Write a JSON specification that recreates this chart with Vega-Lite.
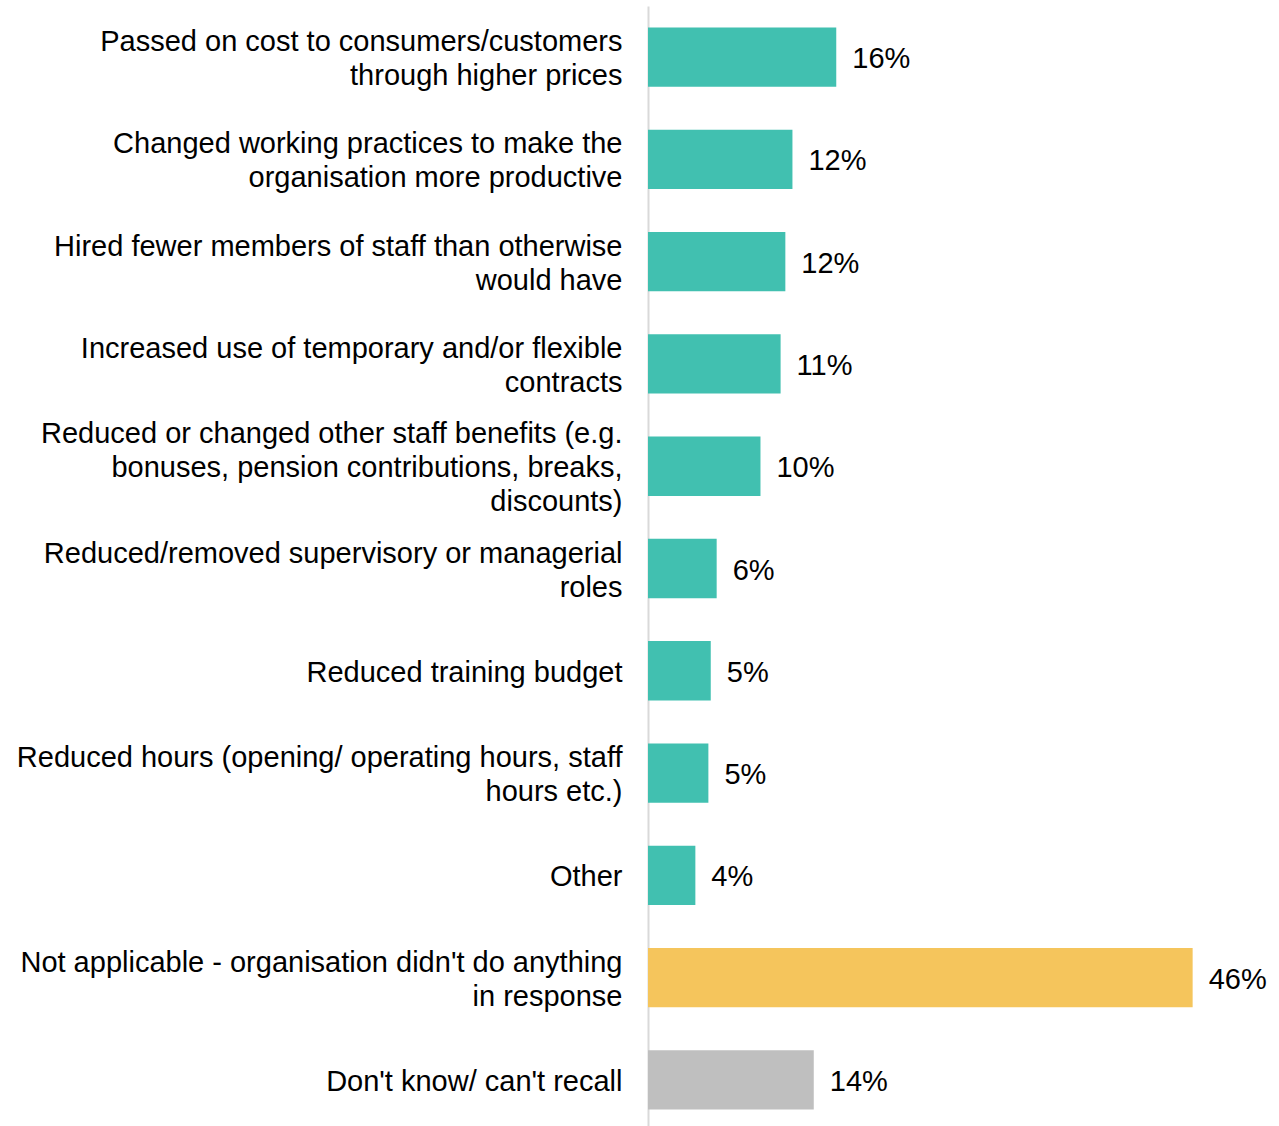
{
  "$schema": "https://vega.github.io/schema/vega-lite/v6.json",
  "autosize": {"type": "none"},
  "padding": {"left": 648, "top": 6, "right": 39, "bottom": 0},
  "width": 592,
  "height": 1125,
  "background": "white",
  "config": {"view": {"stroke": null}, "font": "Liberation Sans"},
  "data": {
    "values": [
      {"order": 1, "cat": "Passed on cost to consumers/customers|through higher prices", "value": 15.9, "label": "16%", "group": "action"},
      {"order": 2, "cat": "Changed working practices to make the|organisation more productive", "value": 12.2, "label": "12%", "group": "action"},
      {"order": 3, "cat": "Hired fewer members of staff than  otherwise|would have", "value": 11.6, "label": "12%", "group": "action"},
      {"order": 4, "cat": "Increased use of temporary and/or flexible|contracts", "value": 11.2, "label": "11%", "group": "action"},
      {"order": 5, "cat": "Reduced or changed other staff benefits (e.g.|bonuses, pension contributions, breaks,|discounts)", "value": 9.5, "label": "10%", "group": "action"},
      {"order": 6, "cat": "Reduced/removed supervisory or managerial|roles", "value": 5.8, "label": "6%", "group": "action"},
      {"order": 7, "cat": "Reduced training budget", "value": 5.3, "label": "5%", "group": "action"},
      {"order": 8, "cat": "Reduced hours (opening/ operating hours, staff|hours etc.)", "value": 5.1, "label": "5%", "group": "action"},
      {"order": 9, "cat": "Other", "value": 4.0, "label": "4%", "group": "action"},
      {"order": 10, "cat": "Not applicable - organisation didn't do anything|in response", "value": 46.0, "label": "46%", "group": "none"},
      {"order": 11, "cat": "Don't know/ can't recall", "value": 14.0, "label": "14%", "group": "dk"}
    ]
  },
  "encoding": {
    "y": {
      "field": "cat", "type": "nominal",
      "sort": {"field": "order", "order": "ascending"},
      "scale": {"paddingInner": 0.42, "paddingOuter": 0.21},
      "axis": {
        "title": null,
        "labelExpr": "split(datum.value, '|')",
        "domain": true, "domainColor": "#D9D9D9", "domainWidth": 2,
        "ticks": false, "labelPadding": 26,
        "labelFont": "Liberation Sans", "labelFontSize": 29, "labelLineHeight": 34,
        "labelColor": "#000000", "labelLimit": 0, "labelAlign": "right",
        "labelOffset": {
          "condition": [
            {"test": "length(split(datum.value, '|')) == 3", "value": -32},
            {"test": "length(split(datum.value, '|')) == 2", "value": -15}
          ],
          "value": 2
        }
      }
    },
    "x": {
      "field": "value", "type": "quantitative",
      "scale": {"domain": [0, 50], "nice": false},
      "axis": null
    }
  },
  "layer": [
    {
      "mark": {"type": "bar"},
      "encoding": {
        "color": {
          "field": "group", "type": "nominal",
          "scale": {"domain": ["action", "none", "dk"], "range": ["#41C0B0", "#F5C55C", "#BFBFBF"]},
          "legend": null
        }
      }
    },
    {
      "mark": {"type": "text", "align": "left", "baseline": "middle", "dx": 16, "dy": 2, "fontSize": 29, "font": "Liberation Sans", "color": "#000000"},
      "encoding": {"text": {"field": "label"}}
    }
  ]
}
